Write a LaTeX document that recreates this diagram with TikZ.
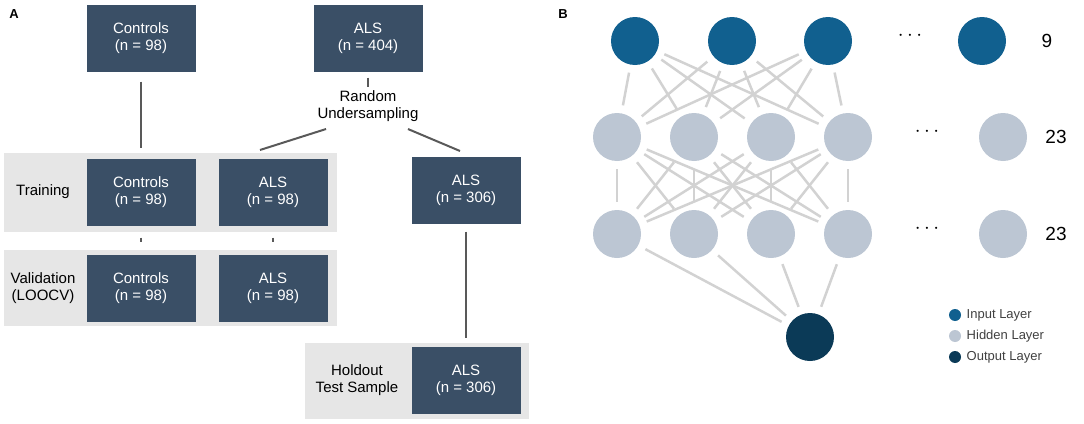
\documentclass[tikz,border=0pt]{standalone}
\usepackage{fontspec}
\setmainfont{Liberation Sans}
\usetikzlibrary{positioning}
\definecolor{boxblue}{HTML}{3A4F66}
\definecolor{inblue}{HTML}{11608F}
\definecolor{hidgrey}{HTML}{BCC6D3}
\definecolor{outblue}{HTML}{0B3A57}
\definecolor{wire}{HTML}{D2D2D2}
\definecolor{band}{HTML}{E6E6E6}
\begin{document}
\begin{tikzpicture}[x=1pt,y=-1pt,font=\fontsize{15}{17}\selectfont]
\tikzstyle{box} = [fill=boxblue, text=white, minimum width=109pt, minimum height=67pt, align=center, inner sep=0pt]
\tikzstyle{link} = [draw=black!65, line width=2pt]
\tikzstyle{neuron} = [circle, minimum size=48pt, inner sep=0pt]
\tikzstyle{syn} = [draw=wire, line width=2.5pt, shorten <=8pt, shorten >=8pt]
\useasboundingbox (0,0) rectangle (1084,423);

% panel A
\fill[band] (4,153) rectangle (337,232);
\fill[band] (4,250) rectangle (337,326);
\fill[band] (305,343) rectangle (529,419);
\node[font=\bfseries\fontsize{13}{15}\selectfont] (labA) at (14,14) {A};
\node[font=\bfseries\fontsize{13}{15}\selectfont] (labB) at (563,14) {B};

\node[box] (ctop) at (141,38) {Controls\\(n = 98)};
\node[box] (atop) at (368,38) {ALS\\(n = 404)};
\node[align=center] (rus) at (368,106) {Random\\Undersampling};
\node (train) at (43,192) {Training};
\node[box] (ctrain) at (141,192) {Controls\\(n = 98)};
\node[box] (atrain) at (273,192) {ALS\\(n = 98)};
\node[box] (ahold) at (466,190) {ALS\\(n = 306)};
\node[align=center] (valid) at (43,288) {Validation\\(LOOCV)};
\node[box] (cval) at (141,288) {Controls\\(n = 98)};
\node[box] (aval) at (273,288) {ALS\\(n = 98)};
\node[align=center] (hold) at (357,380) {Holdout\\Test Sample};
\node[box] (atest) at (466,380) {ALS\\(n = 306)};

\draw[link, shorten <=10pt, shorten >=10pt] (ctop) -- (ctrain);
\draw[link, shorten <=6pt, shorten >=0pt] (atop) -- (rus);
\draw[link] (rus.south west) ++(12,4) coordinate (ra) -- (260,150) coordinate (rb);
\draw[link] (rus.south east) ++(-14,4) coordinate (rc) -- (460,151) coordinate (rd);
\draw[link, shorten <=12pt, shorten >=12pt] (ctrain) -- (cval);
\draw[link, shorten <=12pt, shorten >=12pt] (atrain) -- (aval);
\draw[link, shorten <=8pt, shorten >=8pt] (ahold) -- (atest);

% panel B
\node[neuron, fill=inblue] (i1) at (635,41) {};
\node[neuron, fill=inblue] (i2) at (732,41) {};
\node[neuron, fill=inblue] (i3) at (828,41) {};
\node[neuron, fill=inblue] (i4) at (982,41) {};
\node[neuron, fill=hidgrey] (h1) at (617,137) {};
\node[neuron, fill=hidgrey] (h2) at (694,137) {};
\node[neuron, fill=hidgrey] (h3) at (771,137) {};
\node[neuron, fill=hidgrey] (h4) at (848,137) {};
\node[neuron, fill=hidgrey] (h5) at (1003,137) {};
\node[neuron, fill=hidgrey] (g1) at (617,234) {};
\node[neuron, fill=hidgrey] (g2) at (694,234) {};
\node[neuron, fill=hidgrey] (g3) at (771,234) {};
\node[neuron, fill=hidgrey] (g4) at (848,234) {};
\node[neuron, fill=hidgrey] (g5) at (1003,234) {};
\node[neuron, fill=outblue] (o1) at (810,337) {};

\foreach \a in {i1,i2,i3} \foreach \b in {h1,h2,h3,h4} \draw[syn] (\a) -- (\b);
\foreach \a in {h1,h2,h3,h4} \foreach \b in {g1,g2,g3,g4} \draw[syn] (\a) -- (\b);
\foreach \a in {g1,g2,g3,g4} \draw[syn] (\a) -- (o1);

\node[font=\bfseries\fontsize{22}{22}\selectfont] (d1) at (910,36) {$\cdots$};
\node[font=\bfseries\fontsize{22}{22}\selectfont] (d2) at (927,132) {$\cdots$};
\node[font=\bfseries\fontsize{22}{22}\selectfont] (d3) at (927,229) {$\cdots$};
\node[font=\fontsize{19}{21}\selectfont] (n1) at (1047,41) {9};
\node[font=\fontsize{19}{21}\selectfont] (n2) at (1056,137) {23};
\node[font=\fontsize{19}{21}\selectfont] (n3) at (1056,234) {23};

\node[circle, fill=inblue, minimum size=12pt, inner sep=0pt] (k1) at (955,315) {};
\node[circle, fill=hidgrey, minimum size=12pt, inner sep=0pt] (k2) at (955,336) {};
\node[circle, fill=outblue, minimum size=12pt, inner sep=0pt] (k3) at (955,357) {};
\node[right=2pt of k1, font=\fontsize{13}{15}\selectfont, text=black!75] (t1) {Input Layer};
\node[right=2pt of k2, font=\fontsize{13}{15}\selectfont, text=black!75] (t2) {Hidden Layer};
\node[right=2pt of k3, font=\fontsize{13}{15}\selectfont, text=black!75] (t3) {Output Layer};
\end{tikzpicture}
\end{document}
